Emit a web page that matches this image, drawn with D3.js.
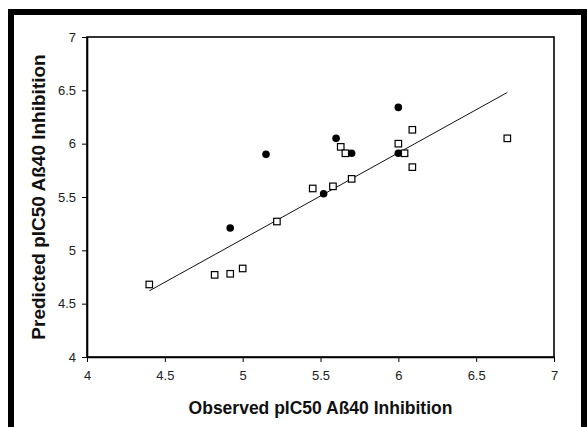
<!DOCTYPE html>
<html>
<head>
<meta charset="utf-8">
<script src="https://cdn.jsdelivr.net/npm/d3@7"></script>
<style>
  body { margin: 0; background: #fff; }
  svg { display: block; }
  .tick text { font-family: "Liberation Sans", Arial, sans-serif; font-size: 13px; fill: #222; }
  .axis-title { font-family: "Liberation Sans", Arial, sans-serif; font-weight: bold; fill: #111; }
</style>
</head>
<body>
<div id="chart"></div>
<script>
'use strict'

// filled circles (test set)
const circleX = [4.92, 5.15, 5.60, 5.70, 5.52, 6.00, 6.00]
const circleY = [5.21, 5.90, 6.05, 5.91, 5.53, 6.34, 5.91]

// open squares (training set)
const squareX = [4.40, 4.82, 4.92, 5.00, 5.22, 5.45, 5.58, 5.70, 5.63, 5.66, 6.00, 6.04, 6.09, 6.09, 6.70]
const squareY = [4.68, 4.77, 4.78, 4.83, 5.27, 5.58, 5.60, 5.67, 5.97, 5.91, 6.00, 5.91, 6.13, 5.78, 6.05]

// trend line end points
const trendX = [4.40, 6.70]
const trendY = [4.62, 6.48]

const xTicks = [4, 4.5, 5, 5.5, 6, 6.5, 7]
const yTicks = [4, 4.5, 5, 5.5, 6, 6.5, 7]

const width = 587
const height = 427
const margin = { left: 87, right: 33, top: 37, bottom: 70 }

const svg = d3.select('#chart')
  .append('svg')
  .attr('width', width)
  .attr('height', height)

// outer black frame (open at the bottom)
svg.append('path')
  .attr('d', `M11,${height + 5} L11,12 L584,12 L584,${height + 5}`)
  .attr('fill', 'none')
  .attr('stroke', '#000')
  .attr('stroke-width', 6)

const x = d3.scaleLinear().domain([4, 7]).range([margin.left, width - margin.right])
const y = d3.scaleLinear().domain([4, 7]).range([height - margin.bottom, margin.top])

// plot area border
svg.append('rect')
  .attr('x', x(4))
  .attr('y', y(7))
  .attr('width', x(7) - x(4))
  .attr('height', y(4) - y(7))
  .attr('fill', '#fff')
  .attr('stroke', '#000')
  .attr('stroke-width', 1.6)

const fmt = d => String(d)

svg.append('g')
  .attr('transform', `translate(0,${y(4)})`)
  .call(d3.axisBottom(x).tickValues(xTicks).tickFormat(fmt).tickSizeInner(5).tickSizeOuter(0).tickPadding(9))
  .call(g => g.select('.domain').attr('stroke-width', 1.6))

svg.append('g')
  .attr('transform', `translate(${x(4)},0)`)
  .call(d3.axisLeft(y).tickValues(yTicks).tickFormat(fmt).tickSizeInner(5).tickSizeOuter(0).tickPadding(6))
  .call(g => g.select('.domain').attr('stroke-width', 1.6))

// trend line
svg.append('line')
  .attr('x1', x(trendX[0]))
  .attr('y1', y(trendY[0]))
  .attr('x2', x(trendX[1]))
  .attr('y2', y(trendY[1]))
  .attr('stroke', '#111')
  .attr('stroke-width', 1)

const squares = squareX.map((v, i) => ({ x: v, y: squareY[i] }))
const circles = circleX.map((v, i) => ({ x: v, y: circleY[i] }))

const sq = 6.5
svg.selectAll('rect.pt')
  .data(squares)
  .enter()
  .append('rect')
  .attr('class', 'pt')
  .attr('x', d => x(d.x) - sq / 2)
  .attr('y', d => y(d.y) - sq / 2)
  .attr('width', sq)
  .attr('height', sq)
  .attr('fill', '#fff')
  .attr('stroke', '#000')
  .attr('stroke-width', 1.2)

svg.selectAll('circle.pt')
  .data(circles)
  .enter()
  .append('circle')
  .attr('class', 'pt')
  .attr('cx', d => x(d.x))
  .attr('cy', d => y(d.y))
  .attr('r', 3.8)
  .attr('fill', '#000')

// axis titles
svg.append('text')
  .attr('class', 'axis-title')
  .attr('x', (x(4) + x(7)) / 2)
  .attr('y', 414)
  .attr('text-anchor', 'middle')
  .style('font-size', '17.5px')
  .text('Observed pIC50 Aß40 Inhibition')

svg.append('text')
  .attr('class', 'axis-title')
  .attr('transform', `translate(45,${(y(4) + y(7)) / 2}) rotate(-90)`)
  .attr('text-anchor', 'middle')
  .style('font-size', '19px')
  .text('Predicted pIC50 Aß40 Inhibition')
</script>
</body>
</html>
